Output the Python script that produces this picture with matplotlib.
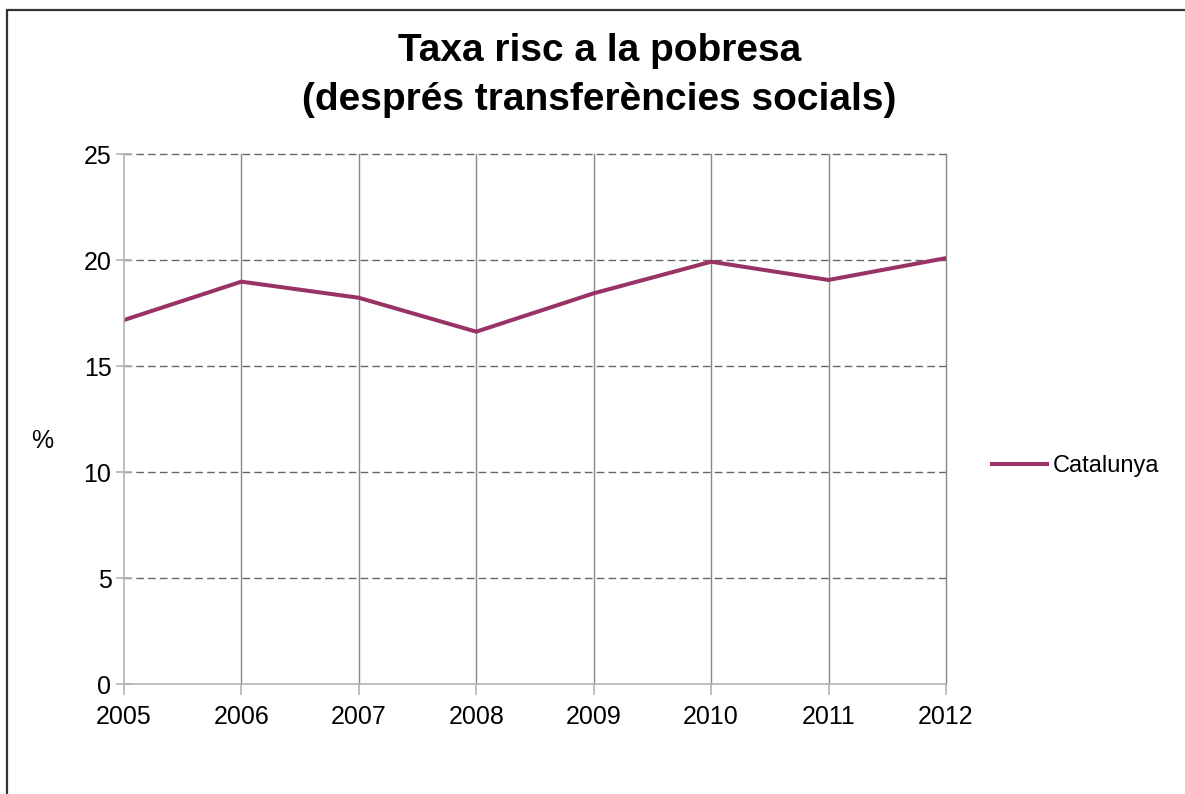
import matplotlib.pyplot as plt
from matplotlib.patches import Rectangle
from matplotlib.lines import Line2D

plt.rcParams['font.family'] = ['Liberation Sans', 'DejaVu Sans']

# Data
years = ['2005', '2006', '2007', '2008', '2009', '2010', '2011', '2012']
catalunya = [17.17, 18.98, 18.22, 16.62, 18.43, 19.92, 19.06, 20.09]

fig = plt.figure(figsize=(11.85, 7.94), dpi=100)
ax = fig.add_axes([0.1046, 0.1385, 0.6937, 0.6675])

x = list(range(len(years)))
ax.plot(x, catalunya, color='#993366', linewidth=2.9, solid_joinstyle='miter',
        label='Catalunya')

ax.set_xlim(0, len(years) - 1)
ax.set_ylim(0, 25)
ax.set_xticks(x)
ax.set_xticklabels(years)
ax.set_yticks([0, 5, 10, 15, 20, 25])

# grid: dashed horizontal, solid vertical
for v in [5, 10, 15, 20, 25]:
    ax.axhline(v, color='#666666', linestyle=(0, (5.5, 3)), linewidth=1.0,
               zorder=0, clip_on=False)
for xi in x[1:]:
    ax.axvline(xi, color='#888888', linewidth=1.0, zorder=0, clip_on=False)

for side in ['top', 'right']:
    ax.spines[side].set_visible(False)
for side in ['left', 'bottom']:
    ax.spines[side].set_color('#b3b3b3')
    ax.spines[side].set_linewidth(1.2)

ax.tick_params(axis='x', direction='out', length=8, color='#b3b3b3', width=1.2,
               labelsize=18, pad=7)
ax.tick_params(axis='y', direction='inout', length=12, color='#b3b3b3', width=1.2,
               labelsize=18, pad=3)

fig.text(0.036, 0.444, '%', fontsize=18, ha='center', va='center')

fig.text(0.506, 0.905, 'Taxa risc a la pobresa\n(després transferències socials)',
         fontsize=28, fontweight='bold', ha='center', va='center', linespacing=1.45)

handle = Line2D([], [], color='#993366', linewidth=2.9)
fig.legend([handle], ['Catalunya'], loc='center left',
           bbox_to_anchor=(0.819, 0.413), frameon=False, fontsize=17,
           handlelength=2.35, handletextpad=0.25)

# outer frame
fig.patches.append(Rectangle((7 / 1185, -0.05), 1.2, 1 - 10 / 794 + 0.05,
                             transform=fig.transFigure, fill=False,
                             edgecolor='#333333', linewidth=1.6))

fig.savefig('out.png', dpi=100)
